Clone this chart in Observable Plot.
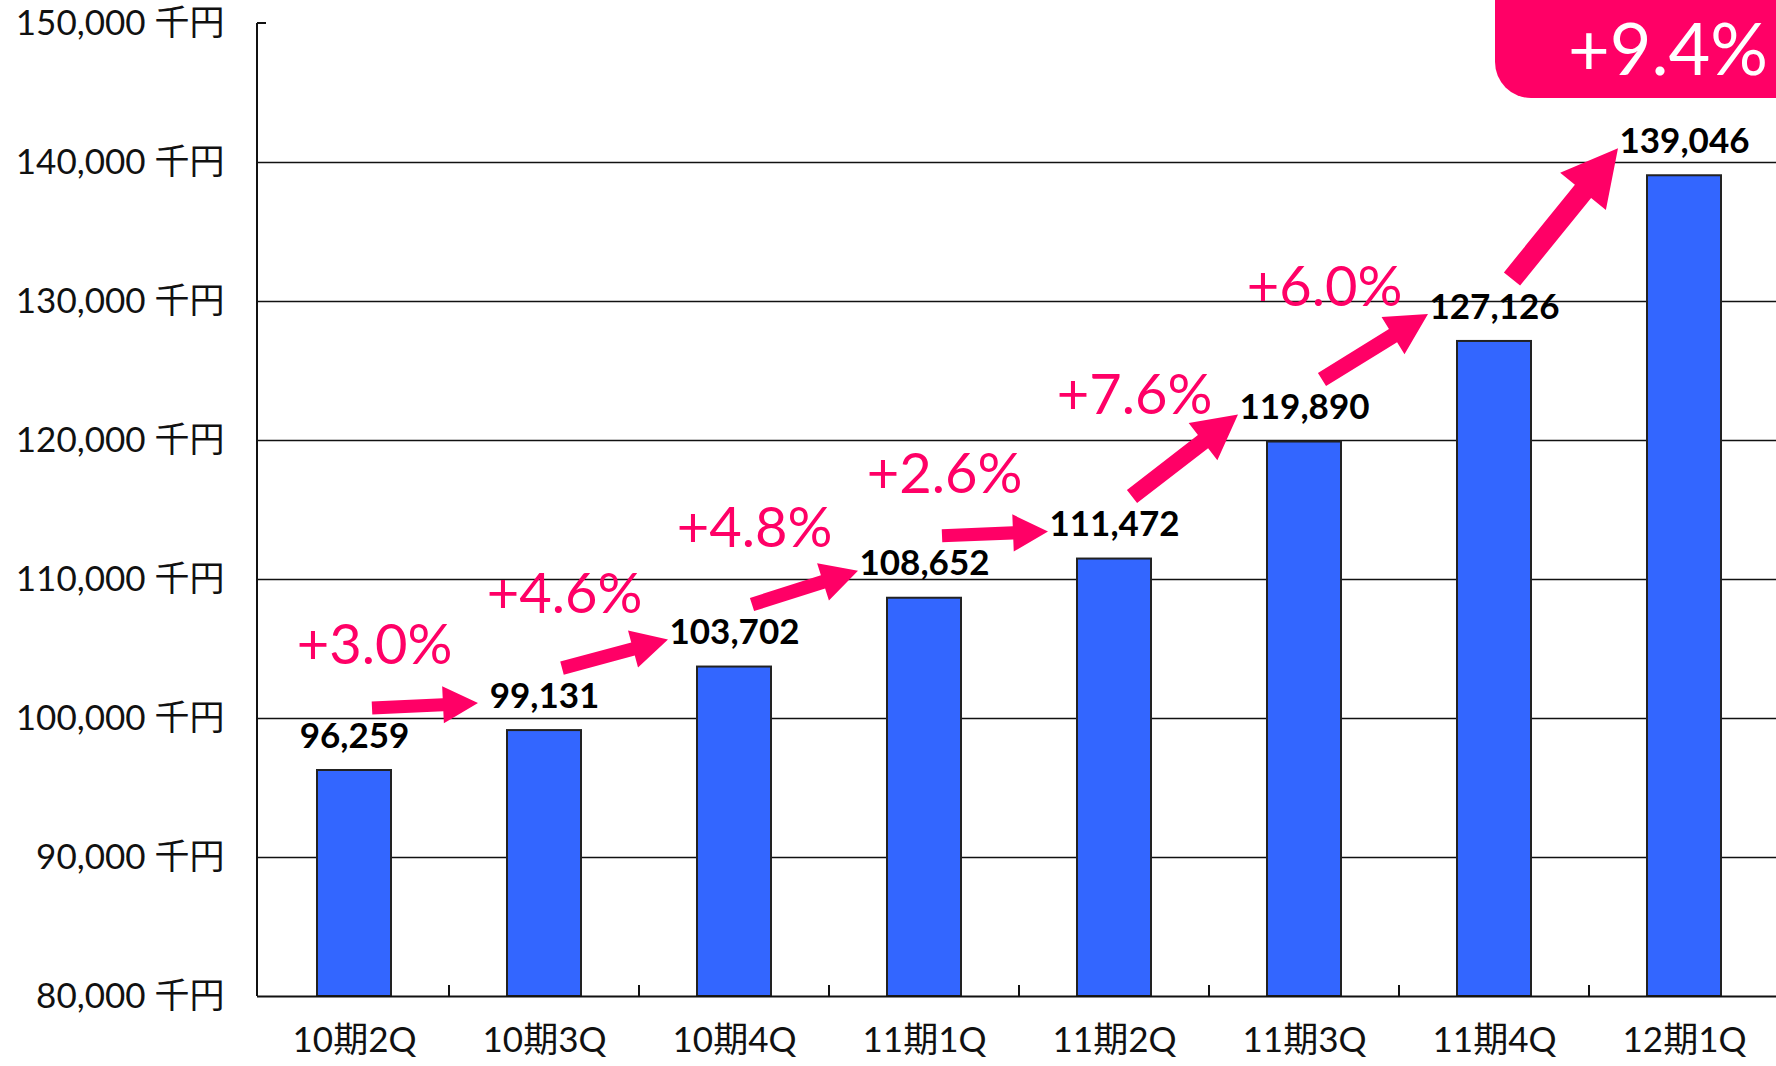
<!DOCTYPE html>
<html><head><meta charset="utf-8">
<script src="https://cdn.jsdelivr.net/npm/d3@7"></script>
<script src="https://cdn.jsdelivr.net/npm/@observablehq/plot@0.6"></script>
<style>html,body{margin:0;padding:0;background:#fff;overflow:hidden;}</style>
</head><body><div id="chart"></div>
<script>
const categories = ["10期2Q","10期3Q","10期4Q","11期1Q","11期2Q","11期3Q","11期4Q","12期1Q"];
const sales = [96259, 99131, 103702, 108652, 111472, 119890, 127126, 139046];
const growth = ["+3.0%","+4.6%","+4.8%","+2.6%","+7.6%","+6.0%","+9.4%"];
const yTicks = [80000, 90000, 100000, 110000, 120000, 130000, 140000, 150000];
const unit = "千円";

const barColor = "#3366FF";
const accent = "#FF0066";
const ink = "#111";

const data = categories.map((c, i) => ({cat: c, value: sales[i]}));
const steps = growth.slice(0, -1).map((g, i) => ({cat: categories[i], mid: (sales[i] + sales[i + 1]) / 2, label: g}));
const fmt = d3.format(",");

function bandCenter(x, c) {
  const bw = typeof x.bandwidth === "function" ? x.bandwidth() : 0;
  return x(c) + bw / 2;
}
function getScales(scales) {
  const x = typeof scales.x === "function" ? scales.x : scales.scales.x.apply;
  const y = typeof scales.y === "function" ? scales.y : scales.scales.y.apply;
  return {x, y};
}

const axisLines = (index, scales, values, dims) => {
  const {x, y} = getScales(scales);
  const g = d3.create("svg:g").attr("stroke", ink).attr("stroke-width", 2);
  const bottom = y(yTicks[0]), top = y(yTicks[yTicks.length - 1]);
  const L = dims.marginLeft;
  g.append("line").attr("x1", L).attr("x2", L).attr("y1", top).attr("y2", bottom);
  g.append("line").attr("x1", L).attr("x2", L + 9).attr("y1", top).attr("y2", top);
  for (let i = 1; i < categories.length; i++) {
    const xm = (bandCenter(x, categories[i - 1]) + bandCenter(x, categories[i])) / 2;
    g.append("line").attr("x1", xm).attr("x2", xm).attr("y1", bottom).attr("y2", bottom - 11);
  }
  return g.node();
};

const arrowsMark = (index, scales, values, dims) => {
  const {x, y} = getScales(scales);
  const g = d3.create("svg:g");
  for (let i = 0; i < sales.length - 1; i++) {
    const x1 = bandCenter(x, categories[i]) + 18, y1 = y(sales[i]) - 62;
    const x2 = bandCenter(x, categories[i + 1]) - 66, y2 = y(sales[i + 1]) - 27;
    const dx = x2 - x1, dy = y2 - y1, L = Math.hypot(dx, dy);
    const ux = dx / L, uy = dy / L, px = -uy, py = ux;
    const s = 0.062 * L, h = 0.33 * L, w = 0.175 * L;
    const bx = x2 - ux * h, by = y2 - uy * h;
    const pts = [
      [x1 + px * s, y1 + py * s], [bx + px * s, by + py * s], [bx + px * w, by + py * w],
      [x2, y2],
      [bx - px * w, by - py * w], [bx - px * s, by - py * s], [x1 - px * s, y1 - py * s]
    ];
    g.append("polygon").attr("points", pts.map(p => p.join(",")).join(" ")).attr("fill", accent);
  }
  return g.node();
};

const boxMark = (index, scales, values, dims) => {
  const W = dims.width;
  const g = d3.create("svg:g");
  g.append("rect").attr("x", W - 281).attr("y", -60).attr("width", 420).attr("height", 158)
    .attr("rx", 36).attr("fill", accent);
  g.append("text").attr("x", W - 8).attr("y", 75).attr("fill", "white")
    .attr("text-anchor", "end")
    .attr("font-size", 72).attr("font-family", "Lato, 'Noto Sans CJK JP', sans-serif")
    .text(growth[growth.length - 1]);
  return g.node();
};

const chart = Plot.plot({
  width: 1776,
  height: 1066,
  marginLeft: 257,
  marginRight: 0,
  marginTop: 23,
  marginBottom: 70,
  style: {fontFamily: "Lato, 'Noto Sans CJK JP', sans-serif", fontSize: "35px", background: "white", color: ink},
  x: {domain: categories, range: [257, 1781], paddingInner: 0.61, paddingOuter: 0.305, label: null},
  y: {domain: [yTicks[0], yTicks[yTicks.length - 1]], label: null},
  marks: [
    Plot.ruleY(yTicks.slice(1, -1), {stroke: ink, strokeWidth: 1.5}),
    Plot.axisY({ticks: yTicks, tickSize: 0, tickPadding: 33, tickFormat: d => fmt(d) + " " + unit, fill: ink}),
    Plot.axisX({tickSize: 0, tickPadding: 31, fontSize: 35, fill: ink}),
    Plot.barY(data, {x: "cat", y1: yTicks[0], y2: "value", fill: barColor, stroke: "#222", strokeWidth: 2}),
    Plot.ruleY([yTicks[0]], {stroke: ink, strokeWidth: 2}),
    axisLines,
    arrowsMark,
    Plot.text(data, {x: "cat", y: "value", text: d => fmt(d.value), dy: -34, fontSize: 35, fontWeight: "bold", fill: "#000"}),
    Plot.text(steps, {x: "cat", y: "mid", text: "label", dx: 20, dy: -104, fontSize: 56, fill: accent}),
    boxMark
  ]
});
document.getElementById("chart").appendChild(chart);
</script>
</body></html>
